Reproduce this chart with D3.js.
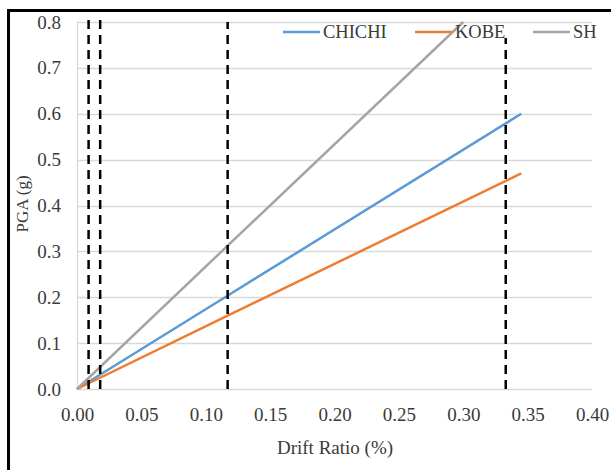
<!doctype html>
<html lang="en">
<head>
    <meta charset="utf-8">
    <title>PGA vs Drift Ratio</title>
    <script src="https://d3js.org/d3.v7.min.js"></script>
    <style>
        body { margin: 0; background: #fff; }
        svg text { font-family: 'Liberation Serif', 'Times New Roman', Times, 'DejaVu Serif', serif !important; fill: #3a3a3a; }
    </style>
</head>
<body>
    <script>
        // Data
        var seriesNames = ["CHICHI", "KOBE", "SH"];
        var seriesColors = ["#5b9bd5", "#ed7d31", "#a5a5a5"];
        var driftChichi = [0, 0.115, 0.345];
        var pgaChichi   = [0, 0.20, 0.60];
        var driftKobe   = [0, 0.115, 0.345];
        var pgaKobe     = [0, 0.157, 0.47];
        var driftSh     = [0, 0.115, 0.30];
        var pgaSh       = [0, 0.307, 0.80];

        // vertical dashed limit lines: drift ratio and top end (PGA)
        var limitDrift = [0.009, 0.018, 0.117, 0.333];
        var limitTop   = [0.815, 0.815, 0.80, 0.765];

        var xTicks = [0, 0.05, 0.10, 0.15, 0.20, 0.25, 0.30, 0.35, 0.40];
        var yTicks = [0, 0.1, 0.2, 0.3, 0.4, 0.5, 0.6, 0.7, 0.8];

        const width = 611, height = 470;
        const mLeft = 77, mRight = 592, mTop = 22, mBottom = 389;

        const svg = d3.select("body")
                      .append("svg")
                      .attr("width", width)
                      .attr("height", height);

        // outer frame (left and top edges visible)
        svg.append("path")
           .attr("d", "M8.5,470 L8.5,10.5 L611,10.5")
           .attr("fill", "none")
           .attr("stroke", "#000")
           .attr("stroke-width", 3);

        const x = d3.scaleLinear().domain([0, 0.4]).range([mLeft, mRight]);
        const y = d3.scaleLinear().domain([0, 0.8]).range([mBottom, mTop]);

        // gridlines
        svg.append("g")
           .selectAll("line")
           .data(yTicks)
           .enter()
           .append("line")
           .attr("x1", mLeft).attr("x2", mRight)
           .attr("y1", function(d) { return Math.round(y(d)) + 0.5; })
           .attr("y2", function(d) { return Math.round(y(d)) + 0.5; })
           .attr("stroke", "#d9d9d9")
           .attr("stroke-width", 1.3);

        // left axis line
        svg.append("line")
           .attr("x1", mLeft + 0.5).attr("x2", mLeft + 0.5)
           .attr("y1", mTop).attr("y2", mBottom)
           .attr("stroke", "#d9d9d9")
           .attr("stroke-width", 1.3);

        // axes (labels only)
        const xAxis = svg.append("g")
           .attr("transform", "translate(0," + mBottom + ")")
           .call(d3.axisBottom(x).tickValues(xTicks).tickFormat(d3.format(".2f")).tickSize(0).tickPadding(19));
        const yAxis = svg.append("g")
           .attr("transform", "translate(" + mLeft + ",0)")
           .call(d3.axisLeft(y).tickValues(yTicks).tickFormat(d3.format(".1f")).tickSize(0).tickPadding(16));
        [xAxis, yAxis].forEach(function(a) {
            a.attr("font-family", null).attr("font-size", null);
            a.select(".domain").remove();
            a.selectAll("text").style("font-size", "19px");
        });

        // series lines
        var series = [
            { name: seriesNames[0], color: seriesColors[0], xs: driftChichi, ys: pgaChichi },
            { name: seriesNames[1], color: seriesColors[1], xs: driftKobe, ys: pgaKobe },
            { name: seriesNames[2], color: seriesColors[2], xs: driftSh, ys: pgaSh }
        ];
        var line = d3.line()
            .x(function(d) { return x(d[0]); })
            .y(function(d) { return y(d[1]); });

        svg.append("g")
           .selectAll("path")
           .data(series)
           .enter()
           .append("path")
           .attr("fill", "none")
           .attr("stroke", function(d) { return d.color; })
           .attr("stroke-width", 2.5)
           .attr("d", function(d) { return line(d.xs.map(function(v, i) { return [v, d.ys[i]]; })); });

        // dashed limit lines
        svg.append("g")
           .selectAll("line")
           .data(limitDrift)
           .enter()
           .append("line")
           .attr("x1", function(d) { return x(d); })
           .attr("x2", function(d) { return x(d); })
           .attr("y1", y(0))
           .attr("y2", function(d, i) { return y(limitTop[i]); })
           .attr("stroke", "#000")
           .attr("stroke-width", 2.5)
           .attr("stroke-dasharray", "9,6");

        // legend
        var legendX = [283, 415, 533];
        var legend = svg.append("g")
           .selectAll("g")
           .data(series)
           .enter()
           .append("g")
           .attr("transform", function(d, i) { return "translate(" + legendX[i] + ",32)"; });
        legend.append("line")
           .attr("x1", 0).attr("x2", 37)
           .attr("stroke", function(d) { return d.color; })
           .attr("stroke-width", 2.5);
        legend.append("text")
           .attr("x", 40)
           .attr("dy", "0.35em")
           .style("font-size", "18.5px")
           .text(function(d) { return d.name; });

        // axis titles
        svg.append("text")
           .attr("x", 335)
           .attr("y", 454)
           .attr("text-anchor", "middle")
           .style("font-size", "19px")
           .text("Drift Ratio (%)");
        svg.append("text")
           .attr("transform", "translate(28,204) rotate(-90)")
           .attr("text-anchor", "middle")
           .style("font-size", "17px")
           .text("PGA (g)");
    </script>
</body>
</html>
